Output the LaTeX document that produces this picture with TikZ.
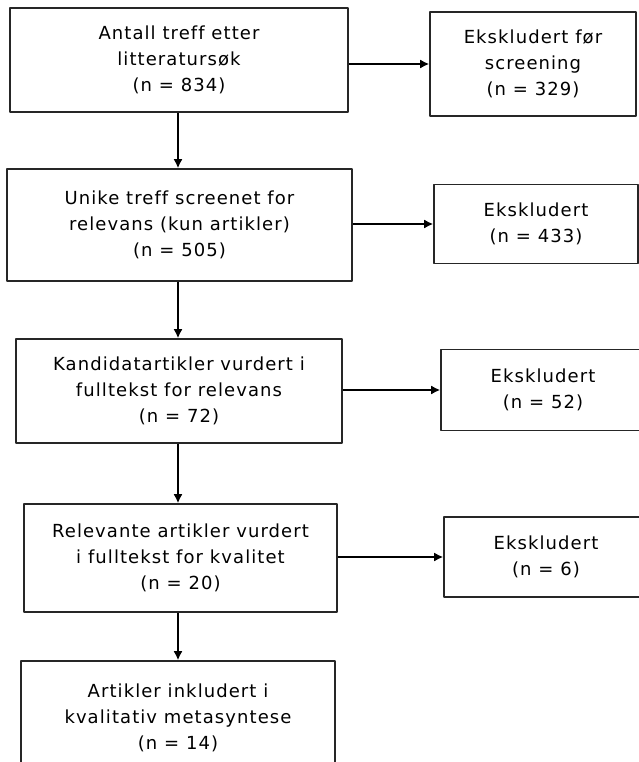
\documentclass[tikz,border=0pt]{standalone}
\usepackage{fontspec}
\setmainfont{DejaVu Sans}[LetterSpace=6.0,Ligatures=NoCommon]
\usetikzlibrary{arrows.meta}
\begin{document}
\begin{tikzpicture}[x=1pt,y=-1pt,>={Latex[length=9pt,width=9pt]},line join=bevel,
  flowbox/.style={draw=black!85,line width=1.6pt,inner sep=0pt,align=center,
    font=\fontsize{18}{26}\selectfont},]
%%
\useasboundingbox (0,0) rectangle (639,762);
\node (node_treff) at (179,60) [flowbox,minimum width=338pt,minimum height=104pt] {Antall treff etter\\litteratursøk\\(n = 834)};
  \node (node_eks_0) at (533,64) [flowbox,minimum width=206pt,minimum height=104pt] {Ekskludert før\\screening\\(n = 329)};
  \node (node_unike) at (179.5,225) [flowbox,minimum width=345pt,minimum height=112pt] {Unike treff screenet for\\relevans (kun artikler)\\(n = 505)};
  \node (node_eks_1) at (536,224) [flowbox,minimum width=204pt,minimum height=79pt] {Ekskludert\\(n = 433)};
  \node (node_kand) at (179,391) [flowbox,minimum width=326pt,minimum height=104pt] {Kandidatartikler vurdert i\\fulltekst for relevans\\(n = 72)};
  \node (node_eks_2) at (543,390) [flowbox,minimum width=204pt,minimum height=81pt] {Ekskludert\\(n = 52)};
  \node (node_rel) at (180.5,558) [flowbox,minimum width=313pt,minimum height=108pt] {Relevante artikler vurdert\\i fulltekst for kvalitet\\(n = 20)};
  \node (node_eks_3) at (546,557) [flowbox,minimum width=204pt,minimum height=80pt] {Ekskludert\\(n = 6)};
  \node (node_inkl) at (178,718) [flowbox,minimum width=314pt,minimum height=114pt] {Artikler inkludert i\\kvalitativ metasyntese\\(n = 14)};
%
  \draw [black,line width=1.6pt,->] (node_treff.south -| 178,0) -- (node_unike.north -| 178,0);
  \draw [black,line width=1.6pt,->] (node_unike.south -| 178,0) -- (node_kand.north -| 178,0);
  \draw [black,line width=1.6pt,->] (node_kand.south -| 178,0) -- (node_rel.north -| 178,0);
  \draw [black,line width=1.6pt,->] (node_rel.south -| 178,0) -- (node_inkl.north -| 178,0);
  \draw [black,line width=1.6pt,->] (node_eks_0.west -| node_treff.east) -- (node_eks_0.west);
  \draw [black,line width=1.6pt,->] (node_eks_1.west -| node_unike.east) -- (node_eks_1.west);
  \draw [black,line width=1.6pt,->] (node_eks_2.west -| node_kand.east) -- (node_eks_2.west);
  \draw [black,line width=1.6pt,->] (node_eks_3.west -| node_rel.east) -- (node_eks_3.west);
%
\end{tikzpicture}
\end{document}
